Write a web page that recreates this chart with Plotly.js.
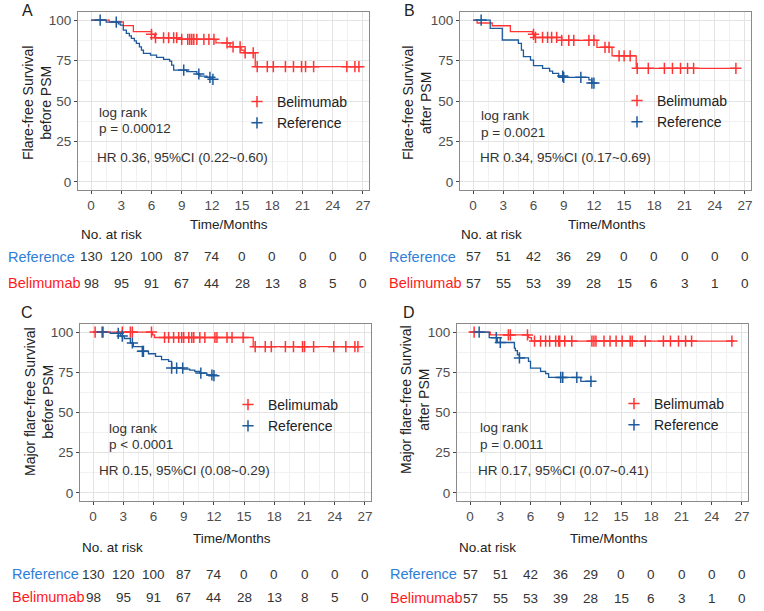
<!DOCTYPE html>
<html><head><meta charset="utf-8">
<script src="https://cdn.plot.ly/plotly-3.0.1.min.js"></script>
<style>html,body{margin:0;padding:0;background:#fff}#chart{width:764px;height:611px}</style>
</head><body><div id="chart"></div>
<script>
// ---------- data ----------
const riskTimes = [0, 3, 6, 9, 12, 15, 18, 21, 24, 27];
const xTicks = [0, 3, 6, 9, 12, 15, 18, 21, 24, 27];
const yTicks = [0, 25, 50, 75, 100];

// Panel A: flare-free survival, before PSM
const A_bel_t = [0, 1.8, 3.2, 4.2, 6.0, 6.3, 8.8, 12.4, 13.8, 14.9, 15.2, 16.3, 26.7];
const A_bel_s = [100, 98.9, 96.6, 92.9, 91.2, 89.1, 88.1, 85.9, 83.5, 81.5, 79.8, 71.2, 71.2];
const A_bel_cens = [6.0, 6.4, 7.2, 7.7, 8.2, 8.5, 9.0, 9.6, 9.8, 10.0, 10.2, 10.5, 11.2, 11.7, 12.2, 13.5, 14.1, 14.8, 15.3, 16.1, 16.5, 17.5, 18.1, 19.3, 20.1, 20.9, 21.3, 22.1, 25.4, 26.2, 26.6];
const A_ref_t = [0, 1.5, 2.7, 2.9, 3.2, 3.5, 3.8, 4.0, 4.3, 4.5, 4.8, 5.0, 5.2, 5.9, 6.5, 7.2, 7.8, 8.0, 8.2, 9.5, 10.5, 10.8, 11.5, 11.9, 12.1];
const A_ref_s = [100, 98.8, 97.6, 96.9, 93.8, 91.8, 90.2, 88.7, 87.2, 85.6, 83.5, 81.5, 79.4, 78.4, 77.0, 75.7, 74.7, 72.2, 69.1, 68.1, 66.7, 65.4, 64.6, 63.4, 63.4];
const A_ref_cens = [0.9, 2.5, 9.2, 10.7, 11.8, 12.1];
const A_ref_risk = [130, 120, 100, 87, 74, 0, 0, 0, 0, 0];
const A_bel_risk = [98, 95, 91, 67, 44, 28, 13, 8, 5, 0];

// Panel B: flare-free survival, after PSM
const B_bel_t = [0, 0.4, 1.9, 3.7, 5.9, 6.1, 8.8, 12.3, 13.8, 16.2, 26.1];
const B_bel_s = [100, 98.2, 96.5, 92.9, 91.2, 89.3, 87.5, 83.2, 77.9, 70.2, 70.2];
const B_bel_cens = [6.0, 6.2, 6.9, 7.4, 7.8, 8.3, 8.8, 9.5, 10.0, 11.5, 12.0, 13.1, 13.5, 14.5, 15.0, 15.6, 16.3, 17.4, 19.0, 19.8, 20.6, 21.3, 21.9, 26.1];
const B_ref_t = [0, 1.7, 2.9, 4.5, 4.8, 5.0, 5.7, 6.0, 6.9, 7.6, 7.9, 8.5, 9.0, 11.5, 11.8, 12.0];
const B_ref_s = [100, 94.9, 87.7, 85.6, 81.5, 77.4, 75.3, 71.8, 70.2, 68.5, 67.1, 65.4, 64.6, 63.0, 61.1, 61.1];
const B_ref_cens = [0.8, 8.9, 9.0, 10.7, 11.8, 12.0];
const B_ref_risk = [57, 51, 42, 36, 29, 0, 0, 0, 0, 0];
const B_bel_risk = [57, 55, 53, 39, 28, 15, 6, 3, 1, 0];

// Panel C: major flare-free survival, before PSM
const C_bel_t = [0, 5.9, 6.1, 15.9, 26.3];
const C_bel_s = [100, 98.2, 96.6, 90.9, 90.9];
const C_bel_cens = [0.2, 1.0, 2.9, 3.7, 3.9, 5.8, 7.1, 7.5, 8.0, 8.5, 8.8, 9.0, 9.5, 9.8, 10.0, 10.6, 11.1, 12.1, 12.3, 13.3, 13.8, 14.9, 16.1, 17.1, 17.7, 19.1, 19.9, 20.8, 21.0, 21.9, 23.9, 25.1, 26.0, 26.3];
const C_ref_t = [0, 1.7, 2.7, 3.1, 3.7, 4.0, 4.9, 5.5, 6.2, 6.8, 7.5, 7.8, 9.0, 9.6, 10.1, 10.6, 11.3, 12.0];
const C_ref_s = [100, 99.2, 97.5, 96.0, 93.2, 91.0, 88.0, 86.5, 84.9, 82.8, 81.8, 77.6, 77.0, 76.3, 75.5, 74.5, 73.3, 72.9];
const C_ref_cens = [0.9, 2.5, 2.9, 3.9, 4.9, 5.0, 7.8, 8.3, 8.9, 10.7, 11.8, 12.0];
const C_ref_risk = [130, 120, 100, 87, 74, 0, 0, 0, 0, 0];
const C_bel_risk = [98, 95, 91, 67, 44, 28, 13, 8, 5, 0];

// Panel D: major flare-free survival, after PSM
const D_bel_t = [0, 2.0, 5.8, 6.1, 26.2];
const D_bel_s = [100, 98.2, 96.5, 94.4, 94.4];
const D_bel_cens = [0.4, 3.8, 4.0, 5.7, 6.4, 7.0, 7.5, 7.9, 8.5, 8.8, 8.9, 9.4, 10.1, 12.1, 12.3, 12.5, 13.3, 13.9, 14.5, 15.1, 15.9, 16.1, 17.4, 19.2, 19.9, 20.7, 21.4, 22.0, 26.0];
const D_ref_t = [0, 1.9, 2.7, 4.4, 4.5, 4.7, 4.9, 5.8, 6.0, 7.0, 7.5, 7.8, 11.0, 12.1];
const D_ref_s = [100, 96.5, 93.5, 90.0, 88.4, 85.9, 83.9, 81.8, 77.6, 75.6, 74.1, 71.8, 69.4, 69.4];
const D_ref_cens = [0.9, 2.6, 3.0, 4.9, 9.0, 9.2, 10.6, 12.0];
const D_ref_risk = [57, 51, 42, 36, 29, 0, 0, 0, 0, 0];
const D_bel_risk = [57, 55, 53, 39, 28, 15, 6, 3, 1, 0];

const seriesNames = ['Belimumab', 'Reference'];
const yTitles = ['Flare-free Survival<br>before PSM', 'Flare-free Survival<br>after PSM',
                 'Major flare-free Survival<br>before PSM', 'Major flare-free Survival<br>after PSM'];
const statLines = [
  ['log rank', 'p = 0.00012', 'HR 0.36, 95%CI (0.22~0.60)'],
  ['log rank', 'p = 0.0021', 'HR 0.34, 95%CI (0.17~0.69)'],
  ['log rank', 'p < 0.0001', 'HR 0.15, 95%CI (0.08~0.29)'],
  ['log rank', 'p = 0.0011', 'HR 0.17, 95%CI (0.07~0.41)']
];
const panelLetters = ['A', 'B', 'C', 'D'];
const riskHeaders = ['No. at risk', 'No. at risk', 'No. at risk', 'No.at risk'];
const xTitle = 'Time/Months';

// ---------- styling / layout ----------
const W = 764, H = 611;
const px = x => x / W, py = y => 1 - y / H;
const RED = '#FF3535', BLUE = '#1C5A9C';
const FONT = 'Liberation Sans, Arial, sans-serif';

const data = [
  {bt: A_bel_t, bs: A_bel_s, bc: A_bel_cens, rt: A_ref_t, rs: A_ref_s, rc: A_ref_cens, rr: A_ref_risk, br: A_bel_risk},
  {bt: B_bel_t, bs: B_bel_s, bc: B_bel_cens, rt: B_ref_t, rs: B_ref_s, rc: B_ref_cens, rr: B_ref_risk, br: B_bel_risk},
  {bt: C_bel_t, bs: C_bel_s, bc: C_bel_cens, rt: C_ref_t, rs: C_ref_s, rc: C_ref_cens, rr: C_ref_risk, br: C_bel_risk},
  {bt: D_bel_t, bs: D_bel_s, bc: D_bel_cens, rt: D_ref_t, rs: D_ref_s, rc: D_ref_cens, rr: D_ref_risk, br: D_bel_risk}
];

// pixel geometry of each panel
const geo = [
  {x0: 78, x1: 369, y0: 12, y1: 190, letter: [27, 10], ytitle: [37, 103], xtitle: [229, 224], stats: [97, 112, 128, 95, 157], leg: [237, 86], risk: {hdr: 79, hdrY: 234, lab: 6, refY: 257, belY: 283}},
  {x0: 460, x1: 751, y0: 12, y1: 190, letter: [409, 10], ytitle: [417, 103], xtitle: [607, 224], stats: [479, 115, 132, 478, 157], leg: [617, 85], risk: {hdr: 459, hdrY: 234, lab: 387, refY: 257, belY: 283}},
  {x0: 80, x1: 371, y0: 324, y1: 501, letter: [27, 312], ytitle: [39, 402], xtitle: [232, 538], stats: [107, 428, 445, 97, 470], leg: [228, 389], risk: {hdr: 80, hdrY: 547, lab: 10, refY: 574, belY: 597}},
  {x0: 457, x1: 748, y0: 324, y1: 501, letter: [409, 312], ytitle: [415, 400], xtitle: [609, 538], stats: [478, 427, 445, 476, 470], leg: [614, 388], risk: {hdr: 457, hdrY: 547, lab: 388, refY: 574, belY: 598}}
];

function survAt(ts, ss, t) {
  let v = ss[0];
  for (let i = 0; i < ts.length; i++) if (ts[i] <= t) v = ss[i];
  return v;
}

const traces = [];
const layout = {
  width: W, height: H,
  margin: {l: 0, r: 0, t: 0, b: 0},
  paper_bgcolor: '#fff', plot_bgcolor: '#fff',
  font: {family: FONT, color: '#333', size: 13},
  annotations: [],
  showlegend: true
};

data.forEach((d, i) => {
  const g = geo[i];
  const n = i + 1;
  const xa = n === 1 ? 'x' : 'x' + n, ya = n === 1 ? 'y' : 'y' + n;
  const legKey = n === 1 ? 'legend' : 'legend' + n;
  // step lines
  traces.push({x: d.bt, y: d.bs, xaxis: xa, yaxis: ya, mode: 'lines', line: {shape: 'hv', color: RED, width: 1.3}, showlegend: false, hoverinfo: 'skip'});
  traces.push({x: d.rt, y: d.rs, xaxis: xa, yaxis: ya, mode: 'lines', line: {shape: 'hv', color: BLUE, width: 1.3}, showlegend: false, hoverinfo: 'skip'});
  // censor marks (+ legend)
  traces.push({x: d.bc, y: d.bc.map(t => survAt(d.bt, d.bs, t)), xaxis: xa, yaxis: ya, mode: 'markers', name: seriesNames[0], legend: legKey,
    marker: {symbol: 'cross-thin', size: 8, line: {color: RED, width: 1.5}, color: RED}});
  traces.push({x: d.rc, y: d.rc.map(t => survAt(d.rt, d.rs, t)), xaxis: xa, yaxis: ya, mode: 'markers', name: seriesNames[1], legend: legKey,
    marker: {symbol: 'cross-thin', size: 8, line: {color: BLUE, width: 1.5}, color: BLUE}});

  const axKeyX = n === 1 ? 'xaxis' : 'xaxis' + n, axKeyY = n === 1 ? 'yaxis' : 'yaxis' + n;
  layout[axKeyX] = {
    domain: [px(g.x0), px(g.x1)], anchor: ya, range: [-1.3, 27.6],
    tickvals: xTicks, ticktext: xTicks.map(String), ticks: 'outside', ticklen: 3, tickcolor: '#444',
    tickfont: {size: 13.5, color: '#4D4D4D'},
    showgrid: true, gridcolor: '#E3E3E3', gridwidth: 1,
    minor: {dtick: 1.5, tick0: 0, showgrid: true, gridcolor: '#F1F1F1', gridwidth: 1},
    showline: true, mirror: true, linecolor: '#8A8A8A', linewidth: 1, zeroline: false,
    automargin: false, fixedrange: true
  };
  layout[axKeyY] = {
    domain: [py(g.y1), py(g.y0)], anchor: xa, range: [-5, 105],
    tickvals: yTicks, ticks: 'outside', ticklen: 3, tickcolor: '#444',
    tickfont: {size: 13.5, color: '#4D4D4D'},
    showgrid: true, gridcolor: '#E3E3E3', gridwidth: 1,
    minor: {dtick: 12.5, tick0: 0, showgrid: true, gridcolor: '#F1F1F1', gridwidth: 1},
    showline: true, mirror: true, linecolor: '#8A8A8A', linewidth: 1, zeroline: false,
    automargin: false, fixedrange: true
  };
  layout[legKey] = {
    x: px(g.leg[0]), y: py(g.leg[1]), xanchor: 'left', yanchor: 'top',
    bgcolor: 'rgba(0,0,0,0)', font: {size: 14, color: '#222'}, itemwidth: 30, tracegroupgap: 0
  };

  const A = layout.annotations;
  const txt = (text, x, y, opts = {}) => A.push(Object.assign({text, x: px(x), y: py(y), xref: 'paper', yref: 'paper', showarrow: false,
    xanchor: 'left', yanchor: 'middle', font: {size: 13.5, color: '#333'}}, opts));
  // panel letter
  txt(panelLetters[i], g.letter[0], g.letter[1], {xanchor: 'center', font: {size: 16, color: '#222'}});
  // axis titles
  txt(yTitles[i], g.ytitle[0], g.ytitle[1], {xanchor: 'center', textangle: -90, font: {size: 14, color: '#222'}});
  txt(xTitle, g.xtitle[0], g.xtitle[1], {xanchor: 'center', font: {size: 13.5, color: '#222'}});
  // stats text
  txt(statLines[i][0], g.stats[0], g.stats[1]);
  txt(statLines[i][1], g.stats[0], g.stats[2]);
  txt(statLines[i][2], g.stats[3], g.stats[4]);
  // risk table
  const r = g.risk;
  txt(riskHeaders[i], r.hdr, r.hdrY, {font: {size: 13.5, color: '#222'}});
  txt(seriesNames[1], r.lab, r.refY, {font: {size: 14.5, color: '#2F7ED8'}});
  txt(seriesNames[0], r.lab, r.belY, {font: {size: 14.5, color: '#FF1A1A'}});
  riskTimes.forEach((t, k) => {
    A.push({text: String(d.rr[k]), x: t, xref: xa, y: py(r.refY), yref: 'paper', showarrow: false, xanchor: 'center', yanchor: 'middle', font: {size: 13.5, color: '#333'}});
    A.push({text: String(d.br[k]), x: t, xref: xa, y: py(r.belY), yref: 'paper', showarrow: false, xanchor: 'center', yanchor: 'middle', font: {size: 13.5, color: '#333'}});
  });
});

Plotly.newPlot('chart', traces, layout, {staticPlot: true, displayModeBar: false});
</script></body></html>
